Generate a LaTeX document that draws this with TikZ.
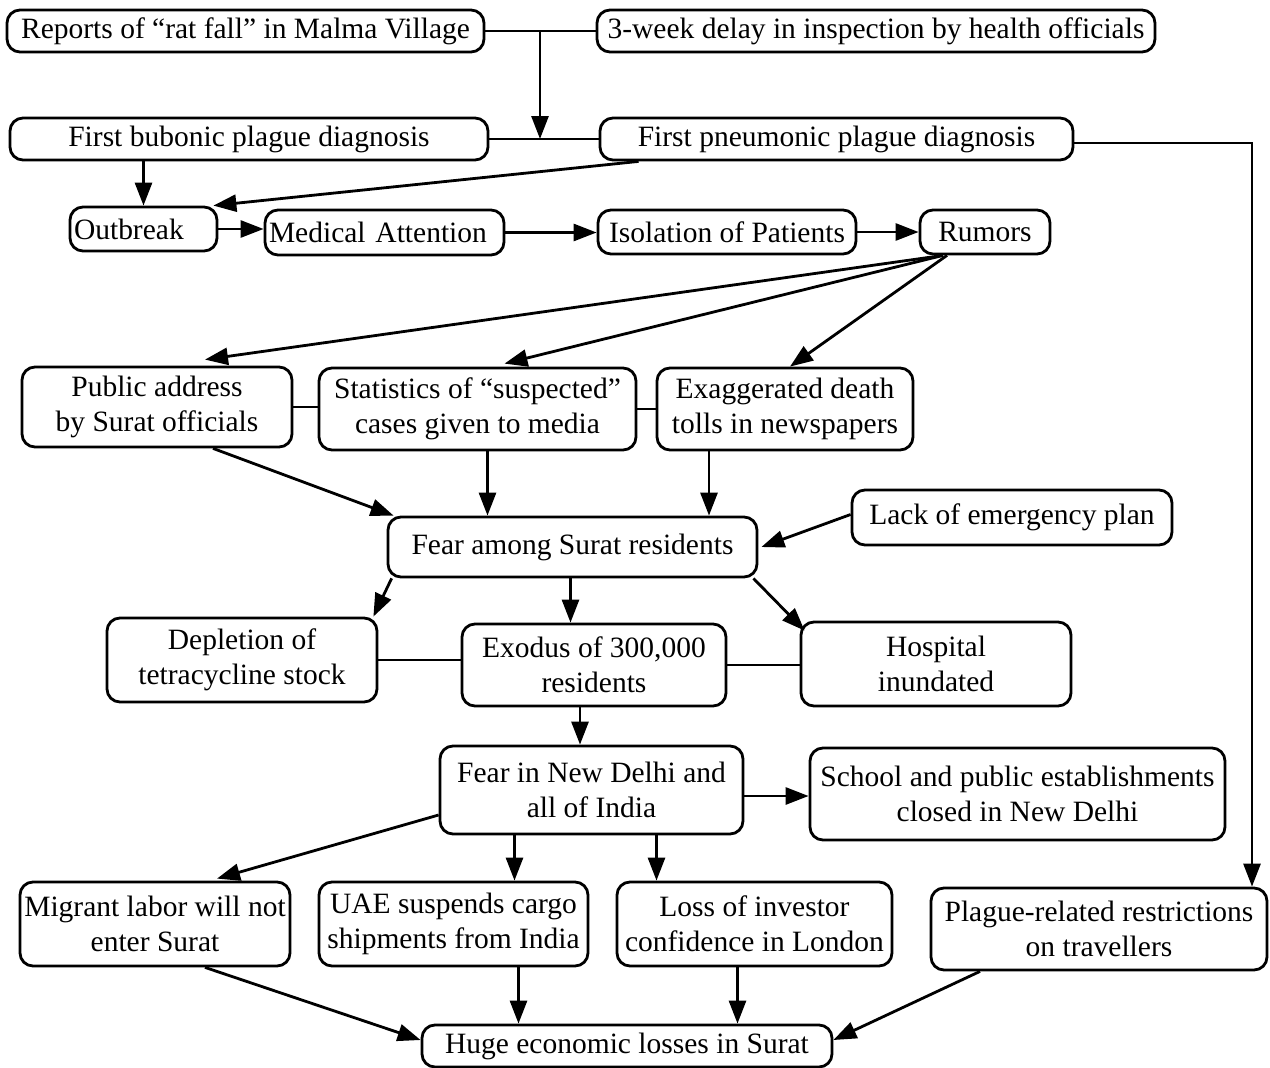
\documentclass[tikz,border=0pt]{standalone}
\usepackage{fontspec}
\setmainfont{Liberation Serif}
\usetikzlibrary{arrows.meta}
\begin{document}
\begin{tikzpicture}[x=1pt,y=-1pt,
  box/.style={draw, line width=2.8pt, rounded corners=13pt, align=center, inner sep=2pt,
              font=\fontsize{29.5}{35}\selectfont},
  link/.style={line width=2.8pt},
  arr/.style={line width=2.8pt, -{Triangle[length=23pt,width=17pt]}}]
\useasboundingbox (0,0) rectangle (1270,1068);

% row 1
\node[box, minimum width=477pt, minimum height=42pt] (rep) at (245.5,31) {Reports of “rat fall” in Malma Village};
\node[box, minimum width=558pt, minimum height=42pt] (del) at (876,31) {3-week delay in inspection by health officials};
% row 2
\node[box, minimum width=478pt, minimum height=42pt] (bub) at (249,139) {First bubonic plague diagnosis};
\node[box, minimum width=473pt, minimum height=42pt] (pne) at (836.5,139) {First pneumonic plague diagnosis};
% row 3
\node[box, minimum width=147pt, minimum height=44pt, text width=139pt, align=left] (out) at (143.5,229) {Outbreak};
\node[box, minimum width=239pt, minimum height=45pt, text width=231pt, align=left] (med) at (384.5,232.5) {Medical Attention};
\node[box, minimum width=258pt, minimum height=44pt] (iso) at (727,232) {Isolation of Patients};
\node[box, minimum width=130pt, minimum height=44pt] (rum) at (985,232) {Rumors};
% row 4
\node[box, minimum width=270pt, minimum height=80pt] (pub) at (157,407) {Public address\\by Surat officials};
\node[box, minimum width=317pt, minimum height=82pt] (sta) at (477.5,409) {Statistics of “suspected”\\cases given to media};
\node[box, minimum width=256pt, minimum height=82pt] (exa) at (785,409) {Exaggerated death\\tolls in newspapers};
% row 5
\node[box, minimum width=369pt, minimum height=60pt] (fea) at (572.5,547) {Fear among Surat residents};
\node[box, minimum width=320pt, minimum height=55pt] (lac) at (1012,517.5) {Lack of emergency plan};
% row 6
\node[box, minimum width=270pt, minimum height=84pt] (dep) at (242,660) {Depletion of\\tetracycline stock};
\node[box, minimum width=264pt, minimum height=82pt] (exo) at (594,665) {Exodus of 300,000\\residents};
\node[box, minimum width=270pt, minimum height=84pt] (hos) at (936,664) {Hospital\\inundated};
% row 7
\node[box, minimum width=303pt, minimum height=88pt] (fnd) at (591.5,790) {Fear in New Delhi and\\all of India};
\node[box, minimum width=415pt, minimum height=92pt] (sch) at (1017.5,794) {School and public establishments\\closed in New Delhi};
% row 8
\node[box, minimum width=270pt, minimum height=84pt] (mig) at (155,924) {Migrant labor will not\\enter Surat};
\node[box, minimum width=269pt, minimum height=84pt] (uae) at (453.5,924) {UAE suspends cargo\\shipments from India};
\node[box, minimum width=275pt, minimum height=84pt] (los) at (754.5,924) {Loss of investor\\confidence in London};
\node[box, minimum width=336pt, minimum height=82pt] (pla) at (1099,929) {Plague-related restrictions\\on travellers};
% row 9
\node[box, minimum width=410pt, minimum height=42pt] (hug) at (627,1046) {Huge economic losses in Surat};

% connectors
\coordinate (j1) at (540,31);
\coordinate (j2) at (540,139);
\coordinate (k) at (1252,143);
\coordinate (f1) at ([yshift=-6pt]fnd.east);
\draw[link] (rep.east) -- (del.west);
\draw[arr] (j1) -- (j2);
\draw[link] (bub.east) -- (pne.west);
\draw[arr] (pne.east |- k) -- (k) -- (k |- pla.north);

\draw[arr] (bub.south -| out.north) -- (out.north);
\draw[arr] ([xshift=40pt]pne.south west) -- ([xshift=-5pt]out.north east);
\draw[arr] (out.east) -- (med.west |- out.east);
\draw[arr] (med.east) -- (iso.west |- med.east);
\draw[arr] (iso.east) -- (rum.west |- iso.east);

\draw[arr] ([xshift=-42pt]rum.south) -- ([xshift=48pt,yshift=6pt]pub.north);
\draw[arr] ([xshift=-42pt]rum.south) -- ([xshift=27pt,yshift=3pt]sta.north);
\draw[arr] ([xshift=-38pt]rum.south) -- ([xshift=5pt]exa.north);

\draw[link] (pub.east) -- (sta.west |- pub.east);
\draw[link] (sta.east) -- (exa.west);

\draw[arr] ([xshift=56pt]pub.south) -- ([xshift=7pt]fea.north west);
\draw[arr] ([xshift=10pt]sta.south) -- ([xshift=10pt]sta.south |- fea.north);
\draw[arr] ([xshift=-76pt]exa.south) -- ([xshift=-76pt]exa.south |- fea.north);
\draw[arr] ([yshift=3pt]lac.west) -- ([xshift=3pt]fea.east);

\draw[arr] ([xshift=5pt]fea.south west) -- ([xshift=-5pt]dep.north east);
\draw[arr] ([xshift=-2pt]fea.south) -- ([xshift=-2pt]fea.south |- exo.north);
\draw[arr] ([xshift=-5pt]fea.south east) -- ([xshift=5pt,yshift=-10pt]hos.north west);
\draw[link] (dep.east) -- (exo.west |- dep.east);
\draw[link] (exo.east) -- (hos.west |- exo.east);

\draw[arr] ([xshift=-14pt]exo.south) -- ([xshift=-14pt]exo.south |- fnd.north);
\draw[arr] (f1) -- (sch.west |- f1);

\draw[arr] ([yshift=-25pt]fnd.west) -- ([xshift=62pt,yshift=2pt]mig.north);
\draw[arr] ([xshift=-77pt]fnd.south) -- ([xshift=-77pt]fnd.south |- uae.north);
\draw[arr] ([xshift=65pt]fnd.south) -- ([xshift=65pt]fnd.south |- los.north);

\draw[arr] ([xshift=50pt]mig.south) -- ([yshift=6pt]hug.west);
\draw[arr] ([xshift=65pt]uae.south) -- ([xshift=65pt]uae.south |- hug.north);
\draw[arr] ([xshift=-17pt]los.south) -- ([xshift=-17pt]los.south |- hug.north);
\draw[arr] ([xshift=-119pt]pla.south) -- ([yshift=6pt]hug.east);
\end{tikzpicture}
\end{document}
